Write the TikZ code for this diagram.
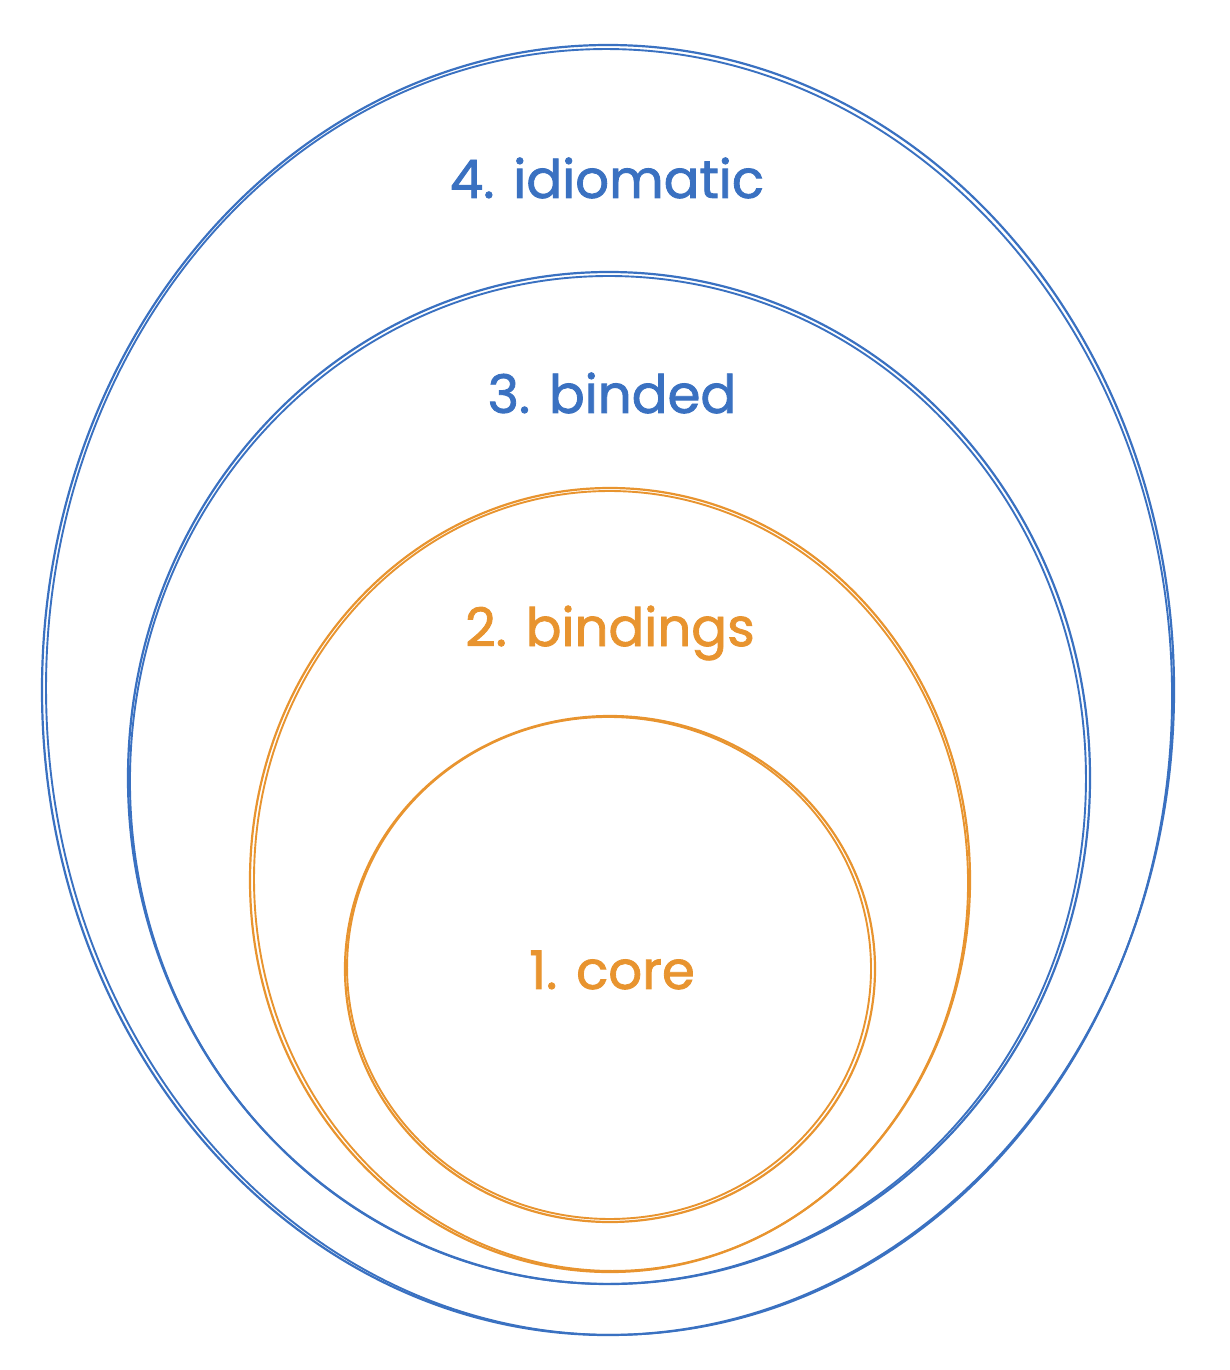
\documentclass[tikz,border=0pt]{standalone}
\usepackage{fontspec}
\setmainfont{Poppins}
\newfontfamily\handfont{Poppins}[FakeBold=1.6]
\definecolor{skblue}{HTML}{3A71C1}
\definecolor{skorange}{HTML}{E8942F}
\begin{document}
\begin{tikzpicture}[x=1pt,y=-1pt,
  ring/.style={line width=2.2pt},
  ringb/.style={line width=1.9pt},
  lab/.style={font=\handfont\fontsize{53}{60}\selectfont, inner sep=0pt}]
\useasboundingbox (0,0) rectangle (1230,1370);
% ring 4
\draw[ring,skblue] (608,690) ellipse [x radius=566, y radius=645];
\draw[ringb,skblue,rotate around={1.2:(608,690)}] (609,692) ellipse [x radius=563, y radius=643];
% ring 3
\draw[ring,skblue] (609,778) ellipse [x radius=481, y radius=506];
\draw[ringb,skblue,rotate around={-1.2:(609,778)}] (608,780) ellipse [x radius=478, y radius=504];
% ring 2
\draw[ring,skorange] (610,880) ellipse [x radius=360, y radius=392];
\draw[ringb,skorange,rotate around={1.5:(610,880)}] (611,881) ellipse [x radius=357, y radius=390];
% ring 1
\draw[ring,skorange] (610,969) ellipse [x radius=265, y radius=253];
\draw[ringb,skorange,rotate around={-1.5:(610,969)}] (609,968) ellipse [x radius=262, y radius=251];
% labels
\node[lab,text=skblue] (l4) at (607,178) {4. idiomatic};
\node[lab,text=skblue] (l3) at (612,393) {3. binded};
\node[lab,text=skorange] (l2) at (610,633) {2. bindings};
\node[lab,text=skorange] (l1) at (612,970) {1. core};
\end{tikzpicture}
\end{document}
